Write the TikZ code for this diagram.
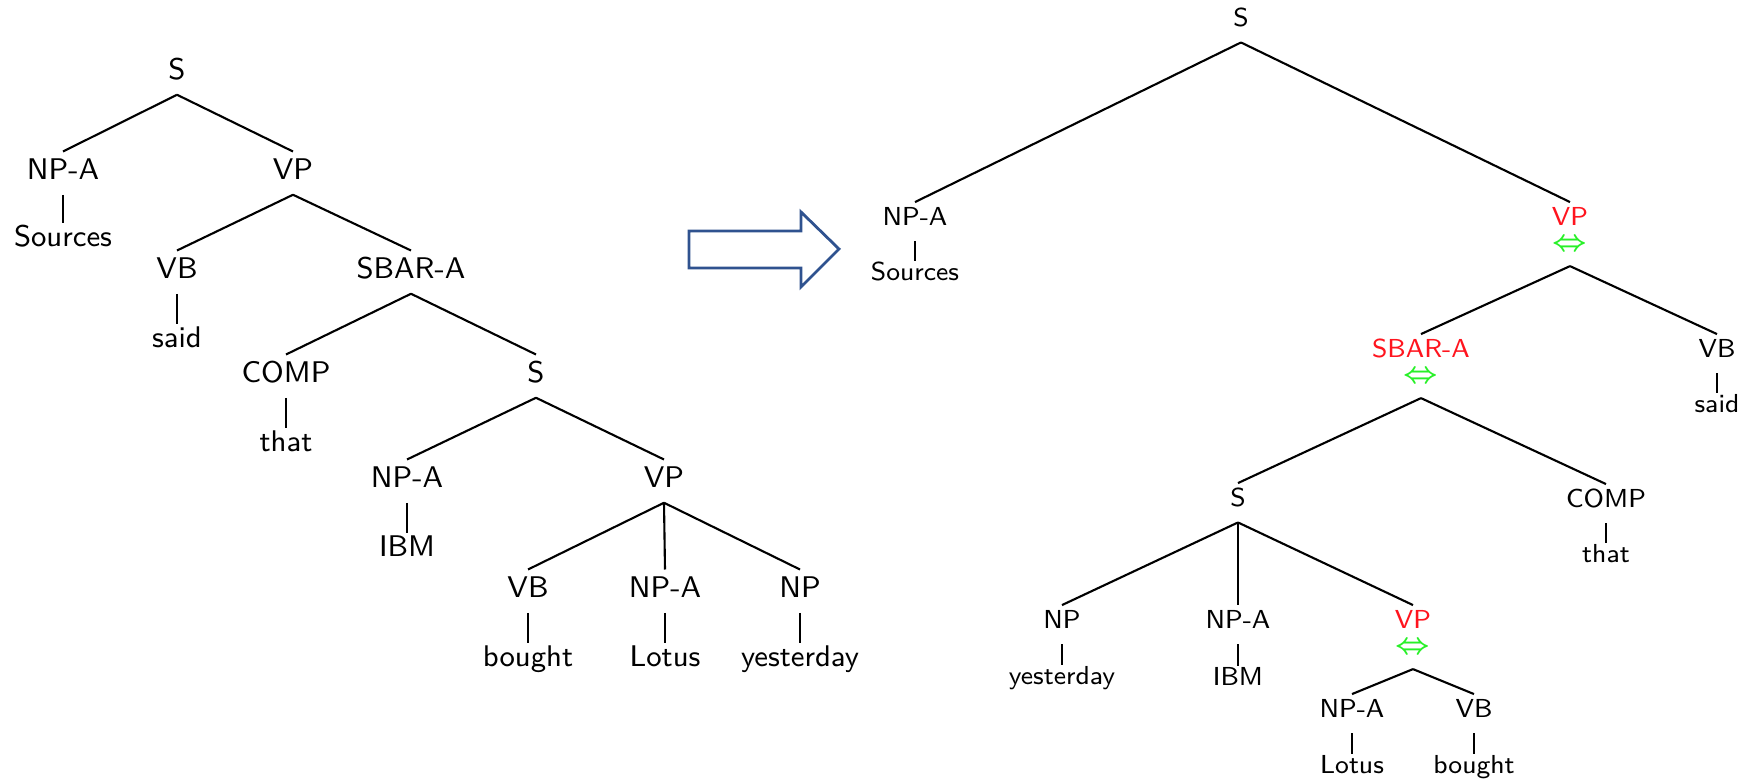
\documentclass[tikz,border=0pt]{standalone}
\usepackage{fontspec}
\definecolor{headred}{RGB}{255,20,30}
\definecolor{swapgreen}{RGB}{40,240,40}
\definecolor{arrowblue}{RGB}{47,82,143}
\tikzset{
  lcat/.style={font=\fontsize{8.5}{10}\sffamily,anchor=base,inner sep=1.5pt,text height=6.3pt,text depth=2.4pt},
  lleaf/.style={lcat,text height=5pt},
  rcat/.style={font=\fontsize{7.4}{9}\sffamily,anchor=base,inner sep=1.2pt,text height=5.3pt,text depth=2.9pt},
  rleaf/.style={rcat,text height=4.2pt},
  rhead/.style={rcat,text=headred,text depth=0.5pt},
  rswap/.style={rcat,text=swapgreen,font=\fontsize{8.2}{9}\selectfont\boldmath,inner ysep=0pt,text height=4.6pt,text depth=4pt},
}
\begin{document}
\begin{tikzpicture}[x=0.01cm,y=-0.01cm,line width=0.6pt]
    \useasboundingbox (0,0) rectangle (1750,783);
    % before
    \node[lcat] (s) at (177,80) {S};
    \node[lcat] (np) at (63,180) {NP-A};
    \node[lleaf] (src) at (63,247) {Sources};
    \node[lcat] (vp) at (293,180) {VP};
    \node[lcat] (vb) at (177,279) {VB};
    \node[lleaf] (said) at (177,348) {said};
    \node[lcat] (sbar) at (411,279) {SBAR-A};
    \node[lcat] (comp) at (286,383) {COMP};
    \node[lleaf] (that) at (286,452) {that};
    \node[lcat] (s2) at (536,383) {S};
    \node[lcat] (np2) at (407,488) {NP-A};
    \node[lleaf] (ibm) at (407,557) {IBM};
    \node[lcat] (vp2) at (664,488) {VP};
    \node[lcat] (vb2) at (528,598) {VB};
    \node[lleaf] (bought) at (528,667) {bought};
    \node[lcat] (np3) at (665,598) {NP-A};
    \node[lleaf] (lotus) at (665,667) {Lotus};
    \node[lcat] (np4) at (800,598) {NP};
    \node[lleaf] (yest) at (800,667) {yesterday};
    \foreach \a/\b in {s/np,s/vp,np/src,vp/vb,vp/sbar,vb/said,sbar/comp,sbar/s2,comp/that,
        s2/np2,s2/vp2,np2/ibm,vp2/vb2,vp2/np3,vp2/np4,vb2/bought,np3/lotus,np4/yest}
        \draw (\a.south)--(\b.north);
    % block arrow
    \draw[arrowblue,line width=0.8pt,line join=miter] (689,231)--(801,231)--(801,212)--(839,249)
        --(801,287)--(801,268)--(689,268)--cycle;
    % after
    \node[rcat] (rs) at (1241,27) {S};
    \node[rcat] (rnp) at (915,226) {NP-A};
    \node[rleaf] (rsrc) at (915,281) {Sources};
    \node[rhead] (rvp) at (1570,226) {VP};
    \node[rswap] (rvpx) at (1570,251) {$\Leftrightarrow$};
    \node[rhead] (rsbar) at (1421,358) {SBAR-A};
    \node[rswap] (rsbarx) at (1421,383) {$\Leftrightarrow$};
    \node[rcat] (rvb) at (1717,358) {VB};
    \node[rleaf] (rsaid) at (1717,413) {said};
    \node[rcat] (rs2) at (1238,507) {S};
    \node[rcat] (rcomp) at (1606,508) {COMP};
    \node[rleaf] (rthat) at (1606,563) {that};
    \node[rcat] (rnp2) at (1062,629) {NP};
    \node[rleaf] (ryest) at (1062,685) {yesterday};
    \node[rcat] (rnp3) at (1238,629) {NP-A};
    \node[rleaf] (ribm) at (1238,686) {IBM};
    \node[rhead] (rvp2) at (1413,629) {VP};
    \node[rswap] (rvp2x) at (1413,654) {$\Leftrightarrow$};
    \node[rcat] (rnp4) at (1352,718) {NP-A};
    \node[rleaf] (rlotus) at (1352,774) {Lotus};
    \node[rcat] (rvb2) at (1474,718) {VB};
    \node[rleaf] (rbought) at (1474,774) {bought};
    \foreach \a/\b in {rs/rnp,rs/rvp,rnp/rsrc,rvpx/rsbar,rvpx/rvb,rvb/rsaid,rsbarx/rs2,rsbarx/rcomp,
        rcomp/rthat,rs2/rnp2,rs2/rnp3,rs2/rvp2,rnp2/ryest,rnp3/ribm,rvp2x/rnp4,rvp2x/rvb2,
        rnp4/rlotus,rvb2/rbought}
        \draw (\a.south)--(\b.north);
\end{tikzpicture}
\end{document}
